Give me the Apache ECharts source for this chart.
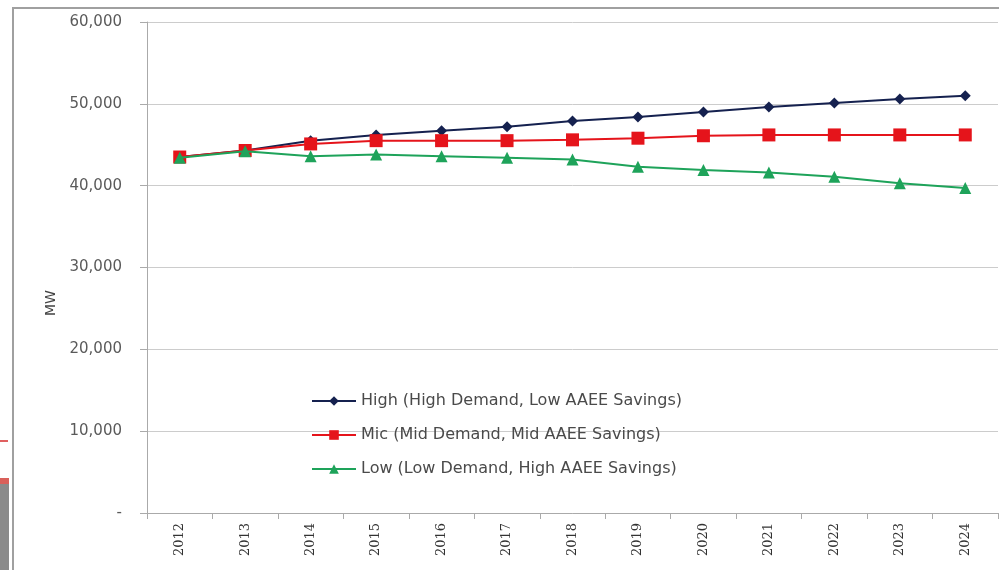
<!DOCTYPE html>
<html>
<head>
<meta charset="utf-8">
<script src="https://cdn.jsdelivr.net/npm/echarts@6/dist/echarts.min.js"></script>
<style>
  html, body { margin: 0; padding: 0; background: #fff; }
  #chart { width: 999px; height: 570px; }
</style>
</head>
<body>
<div id="chart"></div>
<script>
const years = ['2012', '2013', '2014', '2015', '2016', '2017', '2018', '2019', '2020', '2021', '2022', '2023', '2024'];
const highValues = [43500, 44300, 45500, 46200, 46700, 47200, 47900, 48400, 49000, 49600, 50100, 50600, 51000];
const midValues = [43500, 44300, 45100, 45500, 45500, 45500, 45600, 45800, 46100, 46200, 46200, 46200, 46200];
const lowValues = [43400, 44200, 43600, 43800, 43600, 43400, 43200, 42300, 41900, 41600, 41100, 40300, 39700];
const seriesNames = [
  'High (High Demand, Low AAEE Savings)',
  'Mic (Mid Demand, Mid AAEE Savings)',
  'Low (Low Demand, High AAEE Savings)',
];

const chart = echarts.init(document.getElementById('chart'), null, { renderer: 'canvas' });

const fmt = v => (v === 0 ? '-' : v.toLocaleString('en-US'));

chart.setOption({
  animation: false,
  backgroundColor: '#fff',
  graphic: [
    // outer frame of the pasted chart
    {
      type: 'rect',
      shape: { x: 13, y: 8, width: 1000, height: 580 },
      style: { fill: 'none', stroke: '#a0a0a0', lineWidth: 2 },
      silent: true,
    },
    // bits of the neighbouring window at the left edge
    {
      type: 'rect',
      shape: { x: 0, y: 480, width: 9, height: 90 },
      style: { fill: '#8a8a8a' },
      silent: true,
    },
    {
      type: 'rect',
      shape: { x: 0, y: 478, width: 9, height: 6 },
      style: { fill: '#d9605a' },
      silent: true,
    },
    {
      type: 'rect',
      shape: { x: 0, y: 440, width: 8, height: 2 },
      style: { fill: '#e06060' },
      silent: true,
    },
    {
      type: 'text',
      x: 51,
      y: 303,
      rotation: Math.PI / 2,
      style: {
        text: 'MW',
        fill: '#444',
        font: '14px "DejaVu Sans"',
        align: 'center',
        verticalAlign: 'middle',
      },
      silent: true,
    },
  ],
  grid: { left: 147, right: 1, top: 22, bottom: 57 },
  legend: {
    orient: 'vertical',
    left: 306,
    top: 388,
    itemGap: 18,
    itemWidth: 44,
    itemHeight: 12,
    textStyle: { color: '#4a4a4a', fontSize: 16, fontFamily: 'DejaVu Sans' },
    data: seriesNames,
  },
  xAxis: {
    type: 'category',
    data: years,
    boundaryGap: true,
    axisLine: { lineStyle: { color: '#aaa' } },
    axisTick: { show: true, length: 6, lineStyle: { color: '#aaa' } },
    axisLabel: {
      rotate: 90,
      color: '#333',
      fontSize: 13,
      fontFamily: 'DejaVu Serif',
      margin: 10,
    },
    splitLine: { show: false },
  },
  yAxis: {
    type: 'value',
    min: 0,
    max: 60000,
    interval: 10000,
    axisLine: { show: true, lineStyle: { color: '#aaa' } },
    axisTick: { show: true, length: 7, lineStyle: { color: '#aaa' } },
    axisLabel: {
      color: '#5a5a5a',
      fontSize: 15,
      fontFamily: 'DejaVu Sans',
      margin: 25,
      formatter: fmt,
    },
    splitLine: { lineStyle: { color: '#ccc', width: 1 } },
  },
  series: [
    {
      name: seriesNames[0],
      type: 'line',
      data: highValues,
      symbol: 'diamond',
      symbolSize: 11,
      color: '#15214f',
      lineStyle: { width: 2, color: '#15214f' },
      itemStyle: { color: '#15214f' },
      z: 3,
    },
    {
      name: seriesNames[1],
      type: 'line',
      data: midValues,
      symbol: 'rect',
      symbolSize: 13,
      color: '#e5141b',
      lineStyle: { width: 2, color: '#e5141b' },
      itemStyle: { color: '#e5141b' },
      z: 4,
    },
    {
      name: seriesNames[2],
      type: 'line',
      data: lowValues,
      symbol: 'triangle',
      symbolSize: 12,
      color: '#1ea35a',
      lineStyle: { width: 2, color: '#1ea35a' },
      itemStyle: { color: '#1ea35a' },
      z: 5,
    },
  ],
});
</script>
</body>
</html>
